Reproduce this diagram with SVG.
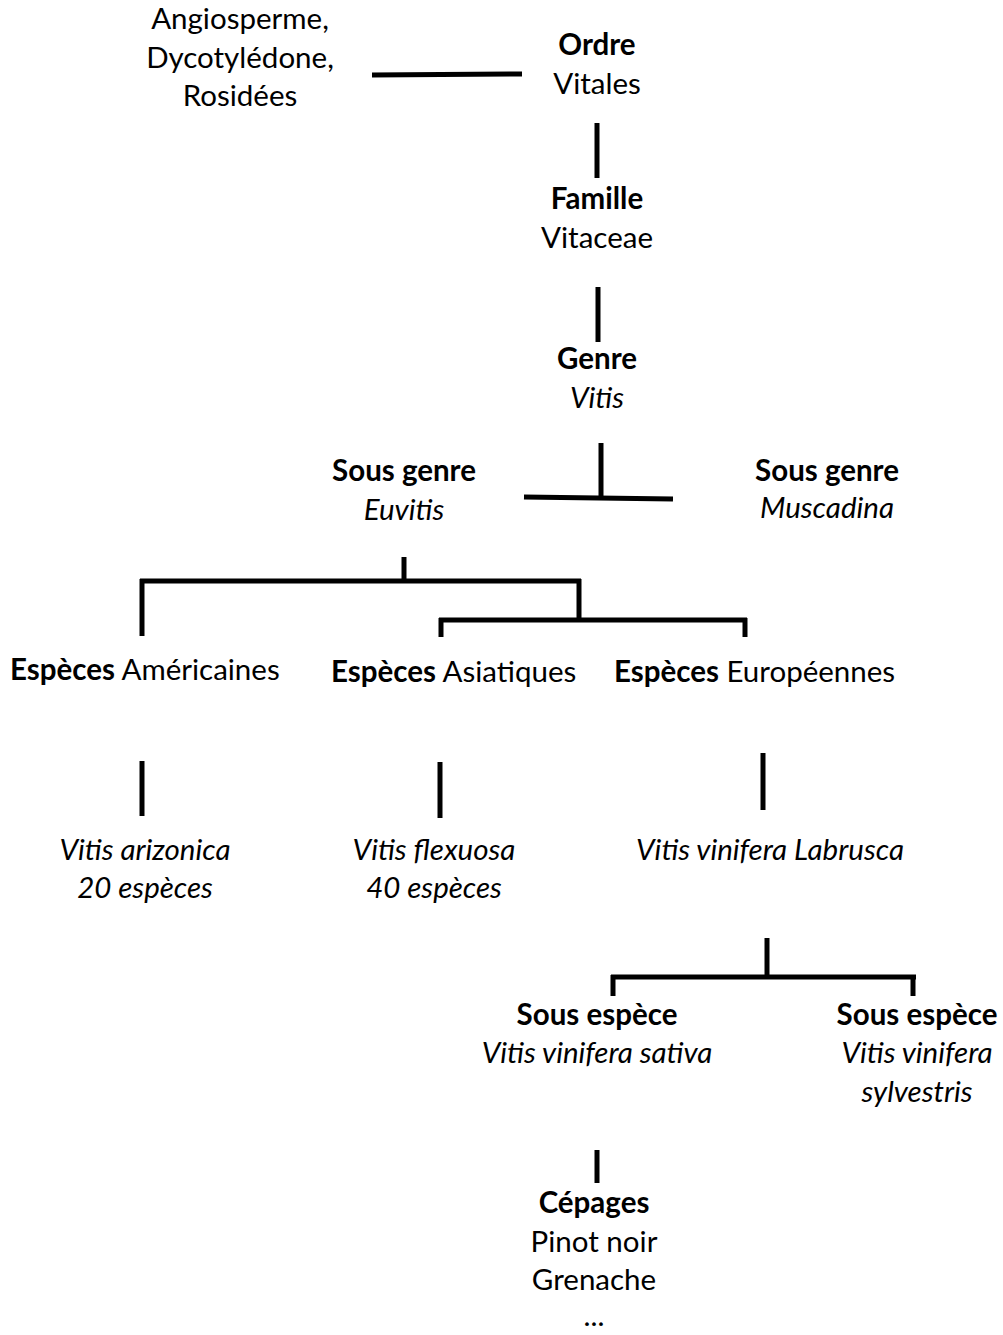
<svg xmlns="http://www.w3.org/2000/svg" width="1003" height="1335" viewBox="0 0 1003 1335">
<style>
text{font-family:Lato,"Liberation Sans",sans-serif;font-size:29.5px;fill:#000;text-anchor:middle}
.b{font-weight:bold}
.i{font-style:italic}
.s{text-anchor:start}
#connectors line{stroke:#000;stroke-width:5;stroke-linecap:butt}
</style>
<rect width="1003" height="1335" fill="#fff"/>
<g id="connectors">
<line x1="372" y1="75" x2="522" y2="74"/>
<line x1="597" y1="123" x2="597" y2="178"/>
<line x1="598" y1="287" x2="598" y2="342"/>
<line x1="601" y1="443" x2="601" y2="498"/>
<line x1="524" y1="497" x2="673" y2="499"/>
<line x1="404" y1="557" x2="404" y2="581"/>
<line x1="140" y1="581" x2="581" y2="581"/>
<line x1="142" y1="579" x2="142" y2="636"/>
<line x1="579" y1="579" x2="579" y2="620"/>
<line x1="439" y1="620" x2="747" y2="620"/>
<line x1="441" y1="618" x2="441" y2="637"/>
<line x1="745" y1="618" x2="745" y2="637"/>
<line x1="142" y1="761" x2="142" y2="816"/>
<line x1="440" y1="762" x2="440" y2="818"/>
<line x1="763" y1="753" x2="763" y2="810"/>
<line x1="767" y1="938" x2="767" y2="977"/>
<line x1="611" y1="977" x2="916" y2="977"/>
<line x1="613" y1="975" x2="613" y2="996"/>
<line x1="913" y1="975" x2="913" y2="996"/>
<line x1="597" y1="1150" x2="597" y2="1183"/>
</g>
<g id="n-classe"><text x="240" y="29">Angiosperme,</text><text x="240" y="68">Dycotylédone,</text><text x="240" y="106">Rosidées</text></g>
<g id="n-ordre"><text class="b" x="597" y="55">Ordre</text><text x="597" y="94">Vitales</text></g>
<g id="n-famille"><text class="b" x="597" y="209">Famille</text><text x="597" y="248">Vitaceae</text></g>
<g id="n-genre"><text class="b" x="597" y="369">Genre</text><text class="i" x="597" y="408">Vitis</text></g>
<g id="n-euvitis"><text class="b" x="404" y="481">Sous genre</text><text class="i" x="404" y="520">Euvitis</text></g>
<g id="n-muscadina"><text class="b" x="827" y="481">Sous genre</text><text class="i" x="827" y="518">Muscadina</text></g>
<g id="n-americaines"><text class="s" x="10" y="680"><tspan class="b">Espèces</tspan> Américaines</text></g>
<g id="n-asiatiques"><text class="s" x="331" y="682"><tspan class="b">Espèces</tspan> Asiatiques</text></g>
<g id="n-europeennes"><text class="s" x="614" y="682"><tspan class="b">Espèces</tspan> Européennes</text></g>
<g id="n-arizonica"><text class="i" x="145" y="860">Vitis arizonica</text><text class="i" x="145" y="898">20 espèces</text></g>
<g id="n-flexuosa"><text class="i" x="434" y="860">Vitis flexuosa</text><text class="i" x="434" y="898">40 espèces</text></g>
<g id="n-labrusca"><text class="i" x="770" y="860">Vitis vinifera Labrusca</text></g>
<g id="n-sativa"><text class="b" x="597" y="1025">Sous espèce</text><text class="i" x="597" y="1063">Vitis vinifera sativa</text></g>
<g id="n-sylvestris"><text class="b" x="917" y="1025">Sous espèce</text><text class="i" x="917" y="1063">Vitis vinifera</text><text class="i" x="917" y="1102">sylvestris</text></g>
<g id="n-cepages"><text class="b" x="594" y="1213">Cépages</text><text x="594" y="1252">Pinot noir</text><text x="594" y="1290">Grenache</text><text x="594" y="1326">...</text></g>
</svg>
